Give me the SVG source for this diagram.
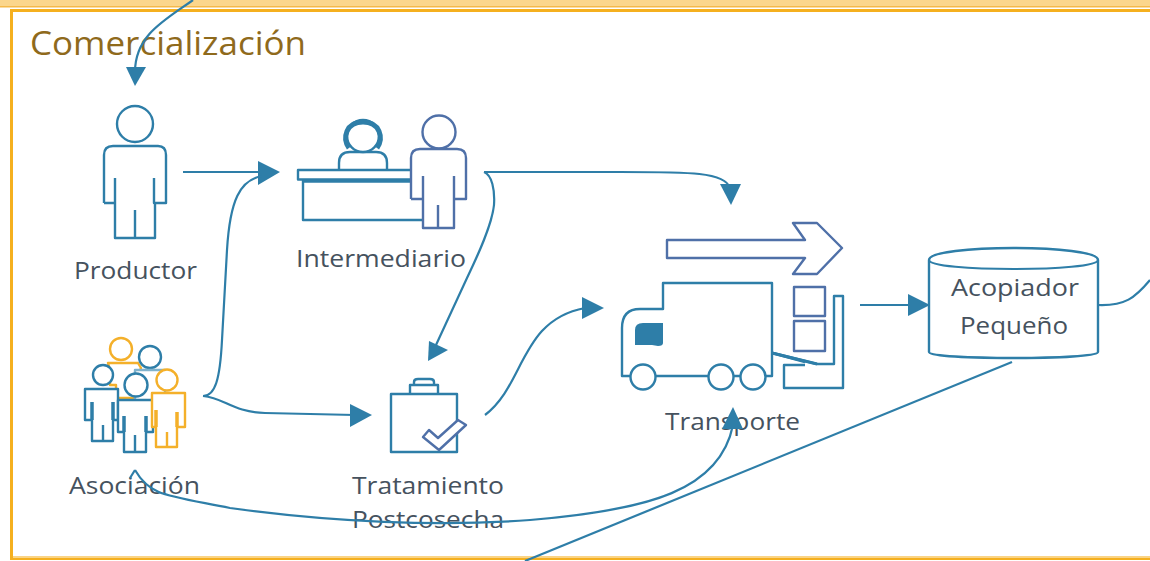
<svg xmlns="http://www.w3.org/2000/svg" width="1150" height="561" viewBox="0 0 1150 561">
<style>
.b{fill:#fff;stroke:#2e7ea8;stroke-width:2.4;stroke-linejoin:round}
.i{fill:#fff;stroke:#4f70a8;stroke-width:2.4;stroke-linejoin:round}
.o{fill:#fff;stroke:#f4b02a;stroke-width:2.4;stroke-linejoin:round}
.c{fill:none;stroke:#2e7ea8;stroke-width:2.2}
.h{fill:#2e7ea8;stroke:none}
.t{font-family:"Open Sans","Liberation Sans",sans-serif;font-size:24px;fill:#46525e}
</style>
<rect width="1150" height="561" fill="#fff"/>
<rect x="0" y="0" width="1150" height="6" fill="#fbd68c"/>
<rect x="0" y="6" width="1150" height="1.500" fill="#f5b94a"/>
<rect x="11.500" y="10.500" width="1150" height="548" fill="none" stroke="#f5b01f" stroke-width="3"/>
<rect x="13" y="556" width="1137" height="2" fill="#fad486"/>
<text x="30" y="55" style="font-family:'Open Sans','Liberation Sans',sans-serif;font-size:32px;fill:#8f6a1c" textLength="276" lengthAdjust="spacingAndGlyphs">Comercialización</text>

<g id="productor">
<circle cx="135" cy="124" r="18" class="b"/>
<path class="b" d="M104 203V155Q104 146 113 146H158Q166 146 166 155V203H154V178M104 203H115V178M115 203V238H155V203M135 210V238"/>
<text class="t" x="74" y="279" textLength="123" lengthAdjust="spacingAndGlyphs">Productor</text>
</g>

<g id="intermediario">
<path d="M339 171V163Q339 152 350 152H376Q387 152 387 163V171" class="b"/>
<circle cx="363" cy="136" r="16" class="b"/>
<path d="M349 148C342 138 346 122 363 122C380 122 384 138 377 148" fill="none" stroke="#2e7ea8" stroke-width="5"/>
<path d="M303 180V220H425" class="b" style="fill:none" stroke-width="3.500"/>
<rect x="298" y="170" width="116" height="9.500" class="b"/>
<path d="M303 181H414" stroke="#2e7ea8" stroke-width="3.500"/>
<circle cx="439" cy="132" r="16.500" class="i"/>
<path class="i" d="M411 199V158Q411 149 420 149H457Q466 149 466 158V199H454V228H423V199H411M423 176V199M454 176V199M438 205V228"/>
<text class="t" x="296" y="267" textLength="170" lengthAdjust="spacingAndGlyphs">Intermediario</text>
</g>

<g id="asociacion">
<circle cx="121" cy="349" r="11" class="o"/>
<path class="o" d="M108 363H138L141 368L136 378V398H116V385H110V370Z" stroke-width="4"/>
<circle cx="150" cy="357" r="11" class="b"/>
<path class="b" d="M135 370H165V405H135Z" style="stroke:#7fb2cc"/>
<circle cx="103" cy="375" r="10" class="b"/>
<path class="b" d="M85 389H118V420H113V441H92V420H85ZM103 425V441"/>
<path d="M92 402V420M113 402V420" stroke="#2e7ea8" stroke-width="3.500"/>
<circle cx="136" cy="385" r="11.500" class="b" stroke-width="4"/>
<path class="b" d="M118 400H153V432H146V452H124V432H118ZM135 435V452"/>
<path d="M124 416V432M146 416V432" stroke="#2e7ea8" stroke-width="3.500"/>
<circle cx="167" cy="380" r="10.500" class="o"/>
<path class="o" d="M152 393H185V427H177V447H156V427H152ZM167 432V447"/>
<path d="M156 410V427M177 412V427" stroke="#f4b02a" stroke-width="3.500"/>
<text class="t" x="69" y="494" textLength="131" lengthAdjust="spacingAndGlyphs">Asociación</text>
</g>

<g id="tratamiento">
<path d="M410 394V385H438V394M414 385V382Q414 379 418 379H430Q434 379 434 382V385" class="b" style="fill:none"/>
<path d="M391 394H457V452H391Z" class="b" stroke-width="3"/>
<path class="i" d="M423 437L429 430L438 438L458 420L466 425L439 450Z"/>
<text class="t" x="352" y="494" textLength="152" lengthAdjust="spacingAndGlyphs">Tratamiento</text>
<text class="t" x="352" y="528" textLength="152" lengthAdjust="spacingAndGlyphs">Postcosecha</text>
</g>

<g id="transporte">
<path class="i" d="M667 240H805L793 223H817L842 248L817 274H793L805 258H667Z"/>
<rect x="794" y="287" width="31" height="29" class="i"/>
<rect x="794" y="321" width="31" height="30" class="i"/>
<path class="b" d="M773 353L817 364H834V296H843V388H784V365H805" style="fill:none"/>
<path class="b" style="fill:none" d="M772 353L805 362"/>
<path class="b" d="M663 283H772V376H622V328Q622 309 640 309H663Z" style="fill:#fff"/>
<path d="M635 345V330Q635 323 643 323H663V343Q663 346 658 346L652 345Z" fill="#2e7ea8"/>
<circle cx="643" cy="377" r="12.500" class="b"/>
<circle cx="721" cy="377" r="12.500" class="b"/>
<circle cx="753" cy="377" r="12.500" class="b"/>
<path d="M772 353L817 364" stroke="#2e7ea8" stroke-width="3"/>
<text class="t" x="665" y="430" textLength="135" lengthAdjust="spacingAndGlyphs">Transporte</text>
</g>

<g id="acopiador">
<path class="b" d="M929 260C929 244 1098 244 1098 260V352C1098 360 929 360 929 352Z"/>
<path class="c" d="M929 260C929 272 1098 272 1098 260"/>
<text class="t" x="951" y="296" textLength="128" lengthAdjust="spacingAndGlyphs">Acopiador</text>
<text class="t" x="960" y="334" textLength="108" lengthAdjust="spacingAndGlyphs">Pequeño</text>
</g>

<g id="connectors">
<path class="c" d="M193 0C165 20 135 35 135 72"/><path class="h" d="M126 67H146L135 86Z"/>
<path class="c" d="M183 172H262" stroke-width="3"/><path class="h" d="M258 161L280 172L258 185Z"/>
<path class="c" d="M203 396C215 396 220 380 222 340L227 250C230 200 240 180 262 176"/>
<path class="c" d="M203 396C225 398 232 412 265 413L355 415"/><path class="h" d="M350 404L372 415L350 427Z"/>
<path class="c" d="M484 172H620C690 172 725 172 730 188"/><path class="h" d="M720 184H741L731 205Z"/>
<path class="c" d="M484 172C492 175 495 190 494 205C492 225 478 255 467 278L436 345"/><path class="h" d="M429 341L448 350L428 361Z"/>
<path class="c" d="M485 415C525 385 520 320 585 308"/><path class="h" d="M582 297L604 308L582 319Z"/>
<path class="c" d="M860 305H912"/><path class="h" d="M908 294L930 305L908 316Z"/>
<path class="c" d="M1098 305C1125 306 1135 298 1150 280"/>
<path class="c" d="M1012 362L525 561"/>
<path class="c" d="M135 470C150 496 165 495 230 508C330 522 440 527 530 520C650 510 720 490 733 425"/><path class="h" d="M733 407L743 429H722Z"/>
<path class="c" d="M135 470L130 478"/>
</g>
</svg>
